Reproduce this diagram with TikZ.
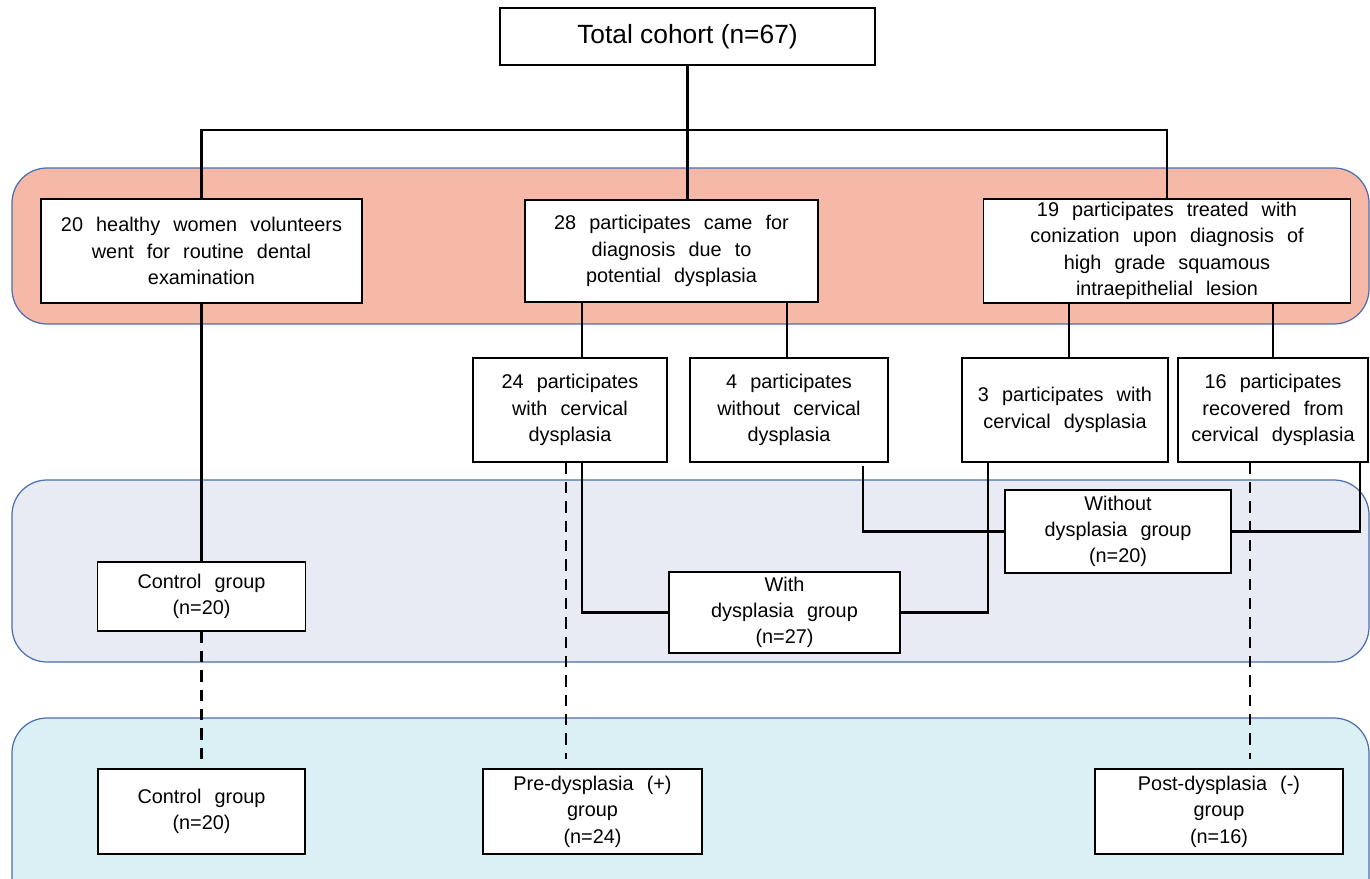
\documentclass[tikz,border=0pt]{standalone}
\usepackage{fontspec}
\setmainfont{Liberation Sans}
\usetikzlibrary{positioning}
\definecolor{bandred}{HTML}{F6B9A7}
\definecolor{bandgrey}{HTML}{E8EBF3}
\definecolor{bandblue}{HTML}{DAF0F5}
\definecolor{bandedge}{HTML}{4A6EB0}
\newcommand{\bodyfont}{\fontsize{11.3}{15}\selectfont\spaceskip 0.66em plus 0.1em\relax}

\begin{document}
\begin{tikzpicture}[
    x=0.02cm,
    y=-0.02cm,
    font=\bodyfont,
    box/.style={
		rectangle,
		draw=black,
		line width=0.7pt,
		text centered,
		align=center,
		inner sep=1pt,
		fill=white
	},
	band/.style={
		draw=bandedge,
		line width=0.7pt,
		rounded corners=0.7cm
	},
	link/.style={
		draw=black,
		line width=1.3pt
	},
	dashlink/.style={
		draw=black,
		line width=1.4pt,
		dash pattern=on 6.5pt off 4.5pt,
		shorten >=0.18cm
	}
  ]

 \clip (0,0) rectangle (1370,879);
 \fill [white] (0,0) rectangle (1370,879);

% // The bands
 \draw [band, fill=bandred]  (12,168) rectangle (1369,324);
 \draw [band, fill=bandgrey] (12,480) rectangle (1369,662);
 \draw [band, fill=bandblue] (12,718) rectangle (1369,940);

% // Top level
 \node [box, minimum width=7.5cm, minimum height=1.14cm, font=\fontsize{15}{18}\selectfont] (total) at (687.5,36.5) {Total cohort (n=67)};

 \node [box, minimum width=6.42cm, minimum height=2.08cm] (healthy) at (201.5,251)
 {20 healthy women volunteers\\went for routine dental\\examination};
 \node [box, minimum width=5.86cm, minimum height=2.04cm] (came) at (671.5,251)
 {28 participates came for\\diagnosis due to\\potential dysplasia};
 \node [box, minimum width=7.34cm, minimum height=2.08cm] (treated) at (1167,251)
 {19 participates treated with\\conization upon diagnosis of\\high grade squamous\\intraepithelial lesion};

% // Second level
 \node [box, minimum width=3.88cm, minimum height=2.08cm] (withcd) at (570,410)
 {24 participates\\with cervical\\dysplasia};
 \node [box, minimum width=3.96cm, minimum height=2.08cm] (withoutcd) at (789,410)
 {4 participates\\without cervical\\dysplasia};
 \node [box, minimum width=4.12cm, minimum height=2.08cm] (threecd) at (1065,410)
 {3 participates with\\cervical dysplasia};
 \node [box, minimum width=3.8cm, minimum height=2.08cm] (recovered) at (1273,410)
 {16 participates\\recovered from\\cervical dysplasia};

% // Groups
 \node [box, minimum width=4.16cm, minimum height=1.38cm] (control1) at (201.5,596.5)
 {Control group\\(n=20)};
 \node [box, minimum width=4.62cm, minimum height=1.62cm] (withgrp) at (784.5,612.5)
 {With\\dysplasia group\\(n=27)};
 \node [box, minimum width=4.52cm, minimum height=1.66cm] (withoutgrp) at (1118,531.5)
 {Without\\dysplasia group\\(n=20)};

 \node [box, minimum width=4.14cm, minimum height=1.7cm] (control2) at (201.5,811.5)
 {Control group\\(n=20)};
 \node [box, minimum width=4.38cm, minimum height=1.7cm] (pre) at (592.5,811.5)
 {Pre-dysplasia (+)\\group\\(n=24)};
 \node [box, minimum width=4.96cm, minimum height=1.7cm] (post) at (1219,811.5)
 {Post-dysplasia (-)\\group\\(n=16)};

% // Connectors
 \coordinate (bus) at (687.5,130);
 \coordinate (cameleft) at (582,0);
 \coordinate (cameright) at (787,0);
 \coordinate (treatleft) at (1069,0);
 \coordinate (treatright) at (1273,0);
 \coordinate (withcddash) at (566,0);
 \coordinate (withoutdown) at (863,0);
 \coordinate (threedown) at (988,0);
 \coordinate (recovdown) at (1360,0);
 \coordinate (recovdash) at (1250,0);

 \draw [link] (total.south) -- (bus);
 \draw [link] (healthy.north) |- (bus) -| (treated.north);
 \draw [link] (bus) -- (came.north -| bus);

 \draw [link] (healthy.south) -- (control1.north);
 \draw [link] (came.south -| cameleft) -- (withcd.north -| cameleft);
 \draw [link] (came.south -| cameright) -- (withoutcd.north -| cameright);
 \draw [link] (treated.south -| treatleft) -- (threecd.north -| treatleft);
 \draw [link] (treated.south -| treatright) -- (recovered.north -| treatright);

 \draw [link] (withcd.south -| cameleft) |- (withgrp.west);
 \draw [link] ([yshift=-0.06cm]withoutcd.south -| withoutdown) |- (withoutgrp.west);
 \draw [link] (threecd.south -| threedown) |- (withgrp.east);
 \draw [link] (recovered.south -| recovdown) |- (withoutgrp.east);

 \draw [dashlink] (control1.south) -- (control2.north);
 \draw [dashlink] (withcd.south -| withcddash) -- (pre.north -| withcddash);
 \draw [dashlink] (recovered.south -| recovdash) -- (post.north -| recovdash);

\end{tikzpicture}
\end{document}
